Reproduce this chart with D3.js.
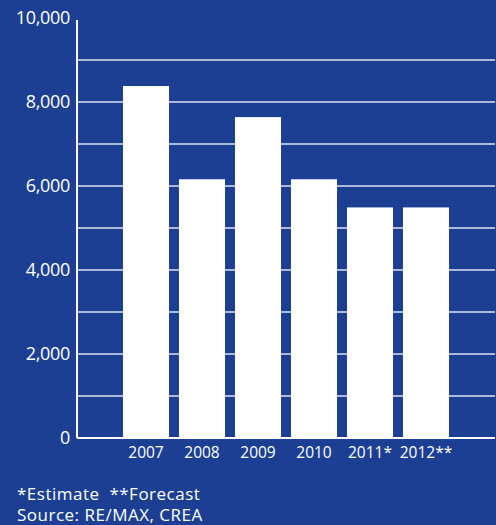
<!DOCTYPE html>
<html>
<head>
<meta charset="utf-8">
<script src="https://cdn.jsdelivr.net/npm/d3@7"></script>
<style>
  html, body { margin: 0; padding: 0; background: #1c3f94; }
  svg { display: block; }
</style>
</head>
<body>
<div id="chart"></div>
<script>
// chart data
var years = ["2007", "2008", "2009", "2010", "2011*", "2012**"];
var sales = [8380, 6160, 7640, 6160, 5490, 5490];
var yTicks = [0, 2000, 4000, 6000, 8000, 10000];
var gridValues = [1000, 2000, 3000, 4000, 5000, 6000, 7000, 8000, 9000];
var notes = ["*Estimate  **Forecast", "Source: RE/MAX, CREA"];

var svgWidth = 496;
var svgHeight = 525;

var svg = d3.select("#chart").append("svg")
    .attr("width", svgWidth)
    .attr("height", svgHeight);

svg.append("rect")
    .attr("width", svgWidth)
    .attr("height", svgHeight)
    .attr("fill", "#1c3f94");

var axisX = 77;
var yScale = d3.scaleLinear()
    .domain([0, 10000])
    .range([438, 18]);

var xScale = d3.scaleBand()
    .domain(years)
    .range([118, 454])
    .paddingInner(10 / 56)
    .paddingOuter(5 / 56);

// gridlines
svg.selectAll(".grid")
    .data(gridValues)
    .enter()
    .append("line")
    .attr("x1", axisX)
    .attr("x2", 495)
    .attr("y1", d => yScale(d))
    .attr("y2", d => yScale(d))
    .attr("stroke", "#dde3f0")
    .attr("stroke-width", 1.5);

// bars
svg.selectAll(".bar")
    .data(sales)
    .enter()
    .append("rect")
    .attr("x", (d, i) => xScale(years[i]))
    .attr("width", xScale.bandwidth())
    .attr("y", d => yScale(d))
    .attr("height", d => yScale(0) - yScale(d))
    .attr("fill", "#ffffff");

// axis lines
svg.append("line")
    .attr("x1", axisX).attr("x2", axisX)
    .attr("y1", 20).attr("y2", yScale(0))
    .attr("stroke", "#ffffff")
    .attr("stroke-width", 2);

svg.append("line")
    .attr("x1", axisX).attr("x2", 495)
    .attr("y1", yScale(0)).attr("y2", yScale(0))
    .attr("stroke", "#ffffff")
    .attr("stroke-width", 2);

// y labels
svg.selectAll(".ylab")
    .data(yTicks)
    .enter()
    .append("text")
    .attr("x", 70)
    .attr("y", d => yScale(d))
    .attr("dy", "0.36em")
    .attr("text-anchor", "end")
    .attr("fill", "#ffffff")
    .style("font-family", "'Open Sans', sans-serif")
    .style("font-size", "18px")
    .style("letter-spacing", "-0.3px")
    .text(d => d3.format(",")(d));

// x labels
svg.selectAll(".xlab")
    .data(years)
    .enter()
    .append("text")
    .attr("x", d => xScale(d) + xScale.bandwidth() / 2)
    .attr("y", 458)
    .attr("text-anchor", "middle")
    .attr("fill", "#ffffff")
    .style("font-family", "'Open Sans', sans-serif")
    .style("font-size", "15.5px")
    .text(d => d);

// footnotes
svg.selectAll(".note")
    .data(notes)
    .enter()
    .append("text")
    .attr("x", 17)
    .attr("y", (d, i) => 500 + i * 21)
    .attr("fill", "#ffffff")
    .style("font-family", "'Open Sans', sans-serif")
    .style("font-size", "17px")
    .style("letter-spacing", "0.5px")
    .style("white-space", "pre")
    .text(d => d);
</script>
</body>
</html>
